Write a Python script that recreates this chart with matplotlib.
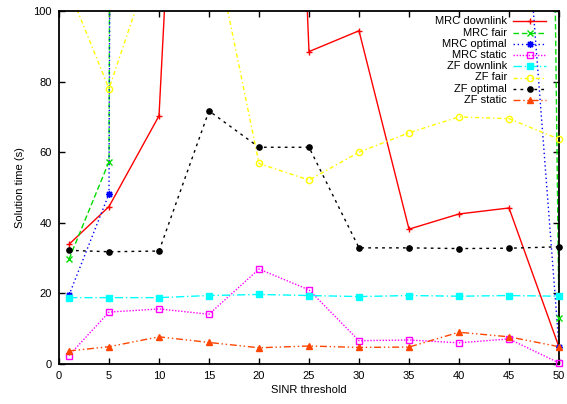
import numpy as np
import matplotlib
matplotlib.use("Agg")
import matplotlib.pyplot as plt
from matplotlib.lines import Line2D

plt.rcParams['font.family'] = ['Liberation Sans', 'DejaVu Sans']

sinr = [1, 5, 10, 15, 20, 25, 30, 35, 40, 45, 50]

mrc_downlink = [33.9, 44.6, 70.3, 345, 430, 88.5, 94.4, 38.2, 42.5, 44.2, 4.8]
mrc_fair = [29.7, 57.3, 4800, 3500, 2600, 2100, 1900, 1700, 1500, 1200, 12.9]
mrc_optimal = [19.5, 48.2, 4000, 3000, 2500, 2000, 1500, 900, 500, 190, 4.9]
mrc_static = [2.4, 14.7, 15.6, 14.1, 26.9, 21.0, 6.6, 6.8, 6.0, 7.1, 0.3]
zf_downlink = [18.8, 18.8, 18.8, 19.4, 19.7, 19.4, 19.1, 19.4, 19.2, 19.4, 19.2]
zf_fair = [106, 78, 120, 126, 56.8, 52.1, 60.0, 65.5, 70.0, 69.5, 63.7]
zf_optimal = [32.2, 31.8, 32.0, 71.7, 61.4, 61.4, 32.9, 32.9, 32.7, 32.8, 33.2]
zf_static = [3.7, 4.9, 7.7, 6.1, 4.6, 5.1, 4.7, 4.8, 9.0, 7.7, 4.9]

series = [
    ("MRC downlink", mrc_downlink, dict(color='#ff0000', ls='-', marker='+', ms=5, mew=1.0)),
    ("MRC fair", mrc_fair, dict(color='#00dd00', ls=(0, (4, 2)), marker='x', ms=4, mew=1.0)),
    ("MRC optimal", mrc_optimal, dict(color='#0000ff', ls=(0, (1, 2)), marker=(8, 2, 0), ms=5, mew=1.0)),
    ("MRC static", mrc_static, dict(color='#ff00ff', ls=(0, (1, 1.2)), marker='s', ms=4.5, mfc='none', mew=1.0)),
    ("ZF downlink", zf_downlink, dict(color='#00ffff', ls=(0, (6, 2, 1, 2)), marker='s', ms=4.5, mew=1.0)),
    ("ZF fair", zf_fair, dict(color='#ffff00', ls=(0, (3, 2, 1, 2)), marker='o', ms=4.5, mfc='none', mew=1.0)),
    ("ZF optimal", zf_optimal, dict(color='#000000', ls=(0, (2, 3)), marker='o', ms=3.8, mew=1.0)),
    ("ZF static", zf_static, dict(color='#ff4500', ls=(0, (5, 2, 1, 2, 1, 2)), marker='^', ms=4.5, mew=1.0)),
]

fig = plt.figure(figsize=(5.67, 4.04), dpi=100)
ax = fig.add_axes([59/567, 40/404, 500/567, 353/404])

x = np.array(sinr, dtype=float)
for label, vals, st in series:
    y = np.array(vals, dtype=float)
    mkw = {k: v for k, v in st.items() if k != 'ls'}
    ax.plot(x, y, color=st['color'], ls=st['ls'], lw=1.0)
    m = (y >= 0) & (y <= 100)
    ax.plot(x[m], y[m], ls='none', clip_on=False, zorder=3, **mkw)

ax.set_xlim(0, 50)
ax.set_ylim(0, 100)
ax.set_xticks(np.arange(0, 51, 5))
ax.set_yticks(np.arange(0, 101, 20))
ax.tick_params(direction='in', top=True, right=True, length=4, width=1.0,
               labelsize=8, pad=5)
for s in ax.spines.values():
    s.set_linewidth(1.3)
ax.set_xlabel("SINR threshold", fontsize=8, labelpad=3)
ax.set_ylabel("Solution time (s)", fontsize=8, labelpad=6)

# gnuplot-style legend: right-aligned text, sample line with marker
row_px = [21.3, 33.0, 44.3, 55.2, 66.2, 77.5, 89.0, 99.8]
for (label, vals, st), ypx in zip(series, row_px):
    ya = (364 - ypx) / 353
    ax.text((507 - 59) / 500, ya, label, transform=ax.transAxes, ha='right',
            va='center', fontsize=8)
    mkw = {k: v for k, v in st.items() if k != 'ls'}
    ax.add_line(Line2D([(513 - 59) / 500, (546 - 59) / 500], [ya, ya],
                       transform=ax.transAxes, color=st['color'], ls=st['ls'], lw=1.0))
    ax.add_line(Line2D([(530 - 59) / 500], [ya], transform=ax.transAxes,
                       ls='none', **mkw))

fig.savefig("out.png", dpi=100)
